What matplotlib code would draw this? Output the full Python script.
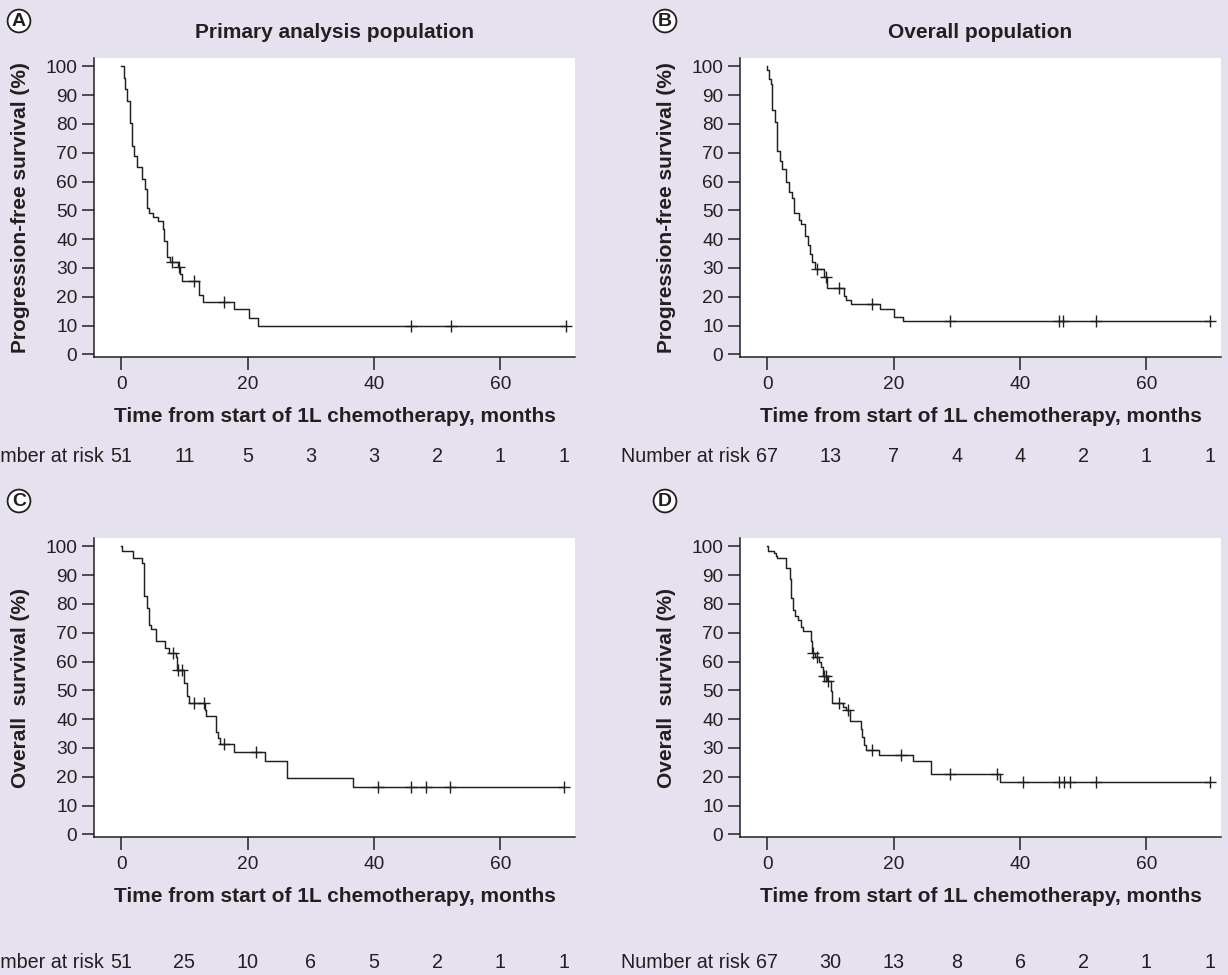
import numpy as np
import matplotlib
matplotlib.use("Agg")
import matplotlib.pyplot as plt
from matplotlib.transforms import blended_transform_factory

plt.rcParams['font.family'] = ['Liberation Sans', 'DejaVu Sans']

BG = '#e6e1ef'
INK = '#231f20'
W, H = 1228, 975

# months where the number at risk is reported
risk_months = [0, 10, 20, 30, 40, 50, 60, 70]

# A: progression-free survival, primary analysis population
pfs_primary_times = [0.37, 0.58, 0.9, 1.32, 1.74, 2.1, 2.47, 3.26, 3.69, 4.05, 4.37, 5.1, 5.9,
                     6.58, 6.85, 7.2, 7.74, 9.06, 9.32, 9.64, 12.3, 13.0, 17.85, 20.2, 21.6]
pfs_primary_surv = [95.8, 92.0, 88.0, 80.4, 72.3, 69.0, 64.9, 60.9, 57.3, 51.0, 49.2, 47.8, 46.4,
                    43.5, 39.5, 33.7, 32.2, 30.2, 27.9, 25.6, 20.6, 18.2, 15.6, 12.5, 9.9]
pfs_primary_censor = [8.0, 9.2, 11.6, 16.3, 45.9, 52.2, 70.3]
pfs_primary_risk = [51, 11, 5, 3, 3, 2, 1, 1]

# B: progression-free survival, overall population
pfs_overall_times = [0.05, 0.3, 0.57, 0.79, 1.2, 1.52, 2.0, 2.36, 3.05, 3.47, 3.94, 4.26, 5.05, 5.42,
                     6.05, 6.47, 6.79, 7.16, 7.52, 9.0, 9.53, 12.1, 12.5, 13.2, 17.8, 20.1, 21.5]
pfs_overall_surv = [98.9, 95.6, 93.9, 84.8, 80.6, 70.7, 67.2, 64.4, 60.0, 56.5, 54.2, 49.2, 46.6, 45.3,
                    41.1, 38.0, 34.8, 32.0, 29.8, 26.8, 23.2, 20.3, 18.9, 17.5, 15.6, 13.1, 11.7]
pfs_overall_censor = [7.95, 9.3, 11.37, 16.6, 28.9, 46.1, 46.8, 52.1, 70.1]
pfs_overall_risk = [67, 13, 7, 4, 4, 2, 1, 1]

# C: overall survival, primary analysis population
os_primary_times = [0.2, 1.84, 3.26, 3.63, 4.05, 4.48, 4.74, 5.53, 7.0, 7.6, 8.7, 8.9, 10.0, 10.4,
                    10.74, 13.27, 13.4, 15.0, 15.3, 15.6, 17.9, 22.7, 26.2, 36.7]
os_primary_surv = [98.5, 96.1, 94.2, 82.9, 78.7, 72.8, 71.4, 67.0, 64.7, 63.1, 61.5, 57.1, 52.4, 48.2,
                   45.7, 43.2, 41.1, 35.7, 33.3, 31.3, 28.7, 25.6, 19.5, 16.3]
os_primary_censor = [8.2, 9.05, 9.58, 11.5, 13.1, 16.3, 21.3, 40.7, 45.9, 48.2, 52.1, 70.1]
os_primary_risk = [51, 25, 10, 6, 5, 2, 1, 1]

# D: overall survival, overall population
os_overall_times = [0.1, 1.1, 1.47, 1.63, 3.05, 3.58, 3.84, 4.1, 4.47, 4.89, 5.31, 5.68, 6.89, 7.16,
                    7.52, 8.16, 8.47, 8.84, 9.53, 10.05, 10.3, 12.0, 12.5, 13.05, 14.8, 15.05, 15.3,
                    15.7, 17.7, 23.1, 25.96, 36.9]
os_overall_surv = [98.5, 97.6, 96.6, 95.8, 92.6, 88.5, 81.9, 77.9, 75.8, 74.4, 72.1, 70.6, 67.1, 63.1,
                   61.7, 60.0, 58.2, 55.1, 53.4, 49.9, 45.5, 44.3, 43.2, 39.4, 36.6, 33.7, 31.0,
                   29.3, 27.6, 25.6, 21.0, 18.1]
os_overall_censor = [7.25, 7.95, 8.99, 9.36, 9.6, 11.3, 12.8, 16.6, 21.1, 29.0, 36.4, 40.5, 46.1,
                     47.0, 47.9, 52.1, 70.1]
os_overall_risk = [67, 30, 13, 8, 6, 2, 1, 1]


def px(x, y):
    """pixel position (from top-left) -> figure fraction"""
    return x / W, 1 - y / H


def draw_km(ax, times, surv, censor, at_risk, risk_y):
    end = max(censor)
    x = [0] + times + [end]
    y = [100] + surv + [surv[-1]]
    ax.step(x, y, where='post', color=INK, lw=1.05)
    idx = np.searchsorted(x, censor, side='right') - 1
    ax.plot(censor, np.array(y)[idx], ls='none', marker='+', ms=9, mew=1.0, color=INK)

    ax.set_xlim(-4.3, 71.8)
    ax.set_ylim(-0.9, 102.9)
    ax.set_xticks([0, 20, 40, 60])
    ax.set_yticks(range(0, 101, 10))
    for side in ('top', 'right'):
        ax.spines[side].set_visible(False)
    for side in ('left', 'bottom'):
        ax.spines[side].set_color(INK)
        ax.spines[side].set_linewidth(1.1)
    ax.tick_params(direction='out', length=9, width=1.1, color=INK,
                   labelcolor=INK, labelsize=13.8)
    ax.tick_params(axis='x', pad=5)
    ax.tick_params(axis='y', pad=3)

    # number-at-risk row below the axis
    tr = blended_transform_factory(ax.transData, ax.figure.transFigure)
    ry = 1 - risk_y / H
    ax.text(-2.8, ry, 'Number at risk', transform=tr, ha='right', va='center',
            fontsize=14.2, color=INK)
    for m, n in zip(risk_months, at_risk):
        ax.text(m, ry, str(n), transform=tr, ha='center', va='center',
                fontsize=14.2, color=INK)


fig = plt.figure(figsize=(W / 100, H / 100), dpi=100, facecolor=BG)

panels = [
    ('A', 94, 58, 357, pfs_primary_times, pfs_primary_surv, pfs_primary_censor, pfs_primary_risk,
     'Progression-free survival (%)', 'Primary analysis population', 457),
    ('B', 740, 58, 357, pfs_overall_times, pfs_overall_surv, pfs_overall_censor, pfs_overall_risk,
     'Progression-free survival (%)', 'Overall population', 457),
    ('C', 94, 538, 837, os_primary_times, os_primary_surv, os_primary_censor, os_primary_risk,
     'Overall  survival (%)', None, 962),
    ('D', 740, 538, 837, os_overall_times, os_overall_surv, os_overall_censor, os_overall_risk,
     'Overall  survival (%)', None, 962),
]

for letter, left, top, bottom, t, s, c, risk, ylab, title, risk_y in panels:
    width = 481
    x0, y0 = px(left, bottom)
    ax = fig.add_axes([x0, y0, width / W, (bottom - top) / H])
    ax.set_facecolor('white')
    draw_km(ax, t, s, c, risk, risk_y)

    cx = left + width / 2
    fig.text(*px(left - 73, (top + bottom) / 2), ylab, rotation=90, ha='center', va='center',
             fontsize=15, fontweight='bold', color=INK)
    fig.text(*px(cx, bottom + 59), 'Time from start of 1L chemotherapy, months',
             ha='center', va='center', fontsize=15, fontweight='bold', color=INK)
    if title:
        fig.text(*px(cx, top - 25), title, ha='center', va='center',
                 fontsize=15, fontweight='bold', color=INK)
    fig.text(*px(left - 75, top - 37), letter, ha='center', va='center',
             fontsize=14, fontweight='bold', color=INK,
             bbox=dict(boxstyle='circle,pad=0.15', fc='white', ec=INK, lw=1.3))

fig.savefig('out.png', dpi=100, facecolor=BG)
